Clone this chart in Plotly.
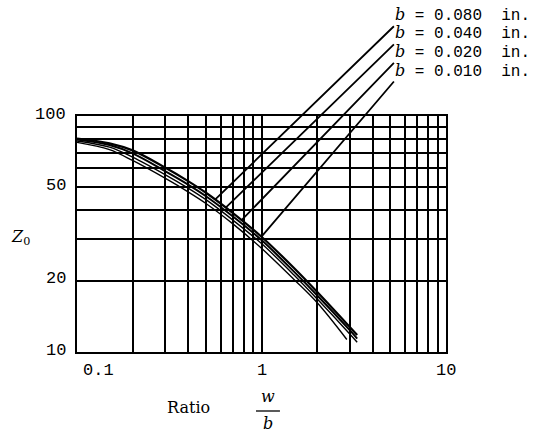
import numpy as np
import plotly.graph_objects as go

# Characteristic impedance Z0 versus strip width ratio w/b for four ground-plane spacings
B_LABELS = ["0.080", "0.040", "0.020", "0.010"]

X_RATIO = [0.1, 0.15, 0.2, 0.3, 0.4, 0.5, 0.7, 1.0, 1.5, 2.0, 3.0, 3.3]
Z_B080 = [80.3, 76.6, 71.5, 60.5, 53.0, 47.3, 38.8, 30.8, 22.7, 18.0, 12.8, 11.8]
Z_B040 = [79.5, 75.3, 69.4, 58.4, 51.2, 45.7, 37.5, 29.8, 21.9, 17.4, 12.4, 11.4]
Z_B020 = [78.4, 73.8, 67.0, 56.5, 49.5, 44.2, 36.2, 28.8, 21.2, 16.8, 11.95, 11.0]
X_RATIO_B010 = [0.1, 0.15, 0.2, 0.3, 0.4, 0.5, 0.7, 1.0, 1.5, 2.0, 2.9]
Z_B010 = [77.3, 72.0, 64.8, 54.5, 47.7, 42.6, 34.9, 27.5, 20.3, 16.2, 11.3]

# Where each leader meets the curve family (w/b), and where its label starts
LEADER_X = [0.56, 0.64, 0.78, 1.0]
LABEL_X = 5.22
LABEL_Z = [240, 201, 168, 140]

X_GRID = [0.1, 0.2, 0.3, 0.4, 0.5, 0.6, 0.7, 0.8, 0.9,
          1, 2, 3, 4, 5, 6, 7, 8, 9, 10]
Y_GRID = [10, 20, 30, 40, 50, 60, 70, 80, 90, 100]
X_TICK_LABELS = [(0.1, "0.1"), (1, "1"), (10, "10")]
Y_TICK_LABELS = [100, 50, 20, 10]

NUM_FONT = "Liberation Mono"
TXT_FONT = "DejaVu Serif"

fig = go.Figure()

series = [
    (X_RATIO, Z_B080, 2.2),
    (X_RATIO, Z_B040, 2.0),
    (X_RATIO, Z_B020, 1.4),
    (X_RATIO_B010, Z_B010, 1.4),
]
for xs, zs, w in series:
    fig.add_trace(go.Scatter(
        x=xs, y=zs, mode="lines",
        line=dict(color="black", width=w, shape="spline", smoothing=1.0),
        showlegend=False, hoverinfo="skip",
    ))

annotations = []

# Leaders from each label down to the upper edge of the curve band
lx = np.log10(X_RATIO)
lz = np.log10(Z_B080)
for name, xe, zl in zip(B_LABELS, LEADER_X, LABEL_Z):
    ze = np.interp(np.log10(xe), lx, lz)
    annotations.append(dict(
        x=np.log10(xe), y=ze, xref="x", yref="y",
        ax=np.log10(LABEL_X), ay=np.log10(zl), axref="x", ayref="y",
        text=(f"<i><span style='font-family:{TXT_FONT}'>b</span></i>"
              f" = {name}&nbsp;&nbsp;in."),
        showarrow=True, arrowhead=0, arrowwidth=1.8, arrowcolor="black",
        standoff=0, startstandoff=0,
        xanchor="left", yanchor="bottom",
        font=dict(family=NUM_FONT, size=16, color="black"),
        borderpad=0,
    ))

# Axis numbers
for v, t in X_TICK_LABELS:
    annotations.append(dict(
        x=np.log10(v), y=0, xref="x", yref="paper",
        text=t, showarrow=False,
        xanchor="left" if v == 0.1 else "center", yanchor="top",
        xshift=4 if v == 0.1 else 0, yshift=-7,
        font=dict(family=NUM_FONT, size=17, color="black"),
    ))
for v in Y_TICK_LABELS:
    annotations.append(dict(
        x=0, y=np.log10(v), xref="paper", yref="y",
        text=str(v), showarrow=False,
        xanchor="right", yanchor="middle", xshift=-9, yshift=2,
        font=dict(family=NUM_FONT, size=17, color="black"),
    ))

# Axis titles
annotations.append(dict(
    x=-0.152, y=0.487, xref="paper", yref="paper",
    xanchor="center", yanchor="middle",
    text="<i>Z</i><sub>0</sub>", showarrow=False,
    font=dict(family=TXT_FONT, size=16, color="black"),
))
annotations.append(dict(
    x=0.301, y=-0.237, xref="paper", yref="paper",
    xanchor="center", yanchor="middle",
    text="Ratio", showarrow=False,
    font=dict(family=TXT_FONT, size=16, color="black"),
))
annotations.append(dict(
    x=0.518, y=-0.19, xref="paper", yref="paper",
    xanchor="center", yanchor="middle",
    text="<i>w</i>", showarrow=False,
    font=dict(family=TXT_FONT, size=16, color="black"),
))
annotations.append(dict(
    x=0.518, y=-0.305, xref="paper", yref="paper",
    xanchor="center", yanchor="middle",
    text="<i>b</i>", showarrow=False,
    font=dict(family=TXT_FONT, size=16, color="black"),
))

shapes = [dict(
    type="line", xref="paper", yref="paper",
    x0=0.485, x1=0.550, y0=-0.250, y1=-0.250,
    line=dict(color="black", width=1.3),
)]

axis_common = dict(
    type="log", showgrid=True, gridcolor="black", gridwidth=1.8,
    showticklabels=False, ticks="", zeroline=False,
    showline=True, linecolor="black", linewidth=2, mirror=True,
)

fig.update_layout(
    width=547, height=438,
    margin=dict(l=77, r=101, t=116, b=86, pad=0),
    paper_bgcolor="white", plot_bgcolor="white",
    xaxis=dict(range=[-1, 1], tickvals=X_GRID, **axis_common),
    yaxis=dict(range=[1, 2], tickvals=Y_GRID, **axis_common),
    annotations=annotations, shapes=shapes,
    showlegend=False,
)

fig.write_html("out.html")
